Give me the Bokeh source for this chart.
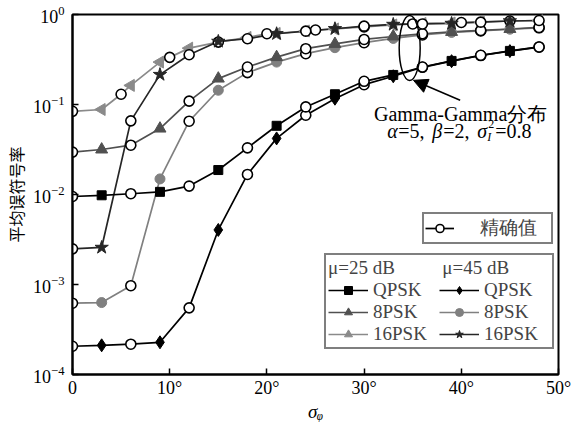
from bokeh.plotting import figure
from bokeh.models import Legend, LegendItem, Label, Arrow, NormalHead, FixedTicker, LogTicker
from bokeh.embed import file_html
from bokeh.resources import INLINE

# ---------------- data ----------------
x_ticks = [0, 10, 20, 30, 40, 50]
x_tick_labels = ["0", "10°", "20°", "30°", "40°", "50°"]

# mu = 25 dB, QPSK
qpsk25_ex_x = [0, 6, 12, 18, 24, 30, 36, 42, 48]
qpsk25_ex_y = [9.5e-3, 1.02e-2, 1.24e-2, 3.3e-2, 9.4e-2, 0.181, 0.261, 0.352, 0.436]
qpsk25_sim_x = [3, 9, 15, 21, 27, 33, 39, 45]
qpsk25_sim_y = [9.8e-3, 1.07e-2, 1.87e-2, 5.8e-2, 0.13, 0.213, 0.305, 0.394]

# mu = 45 dB, QPSK
qpsk45_ex_x = [0, 6, 12, 18, 24, 30, 36, 42, 48]
qpsk45_ex_y = [2.06e-4, 2.17e-4, 5.5e-4, 0.0167, 0.076, 0.166, 0.259, 0.35, 0.434]
qpsk45_sim_x = [3, 9, 15, 21, 27, 33, 39, 45]
qpsk45_sim_y = [2.11e-4, 2.28e-4, 4.04e-3, 0.042, 0.116, 0.206, 0.303, 0.392]

# mu = 25 dB, 8PSK
psk8_25_ex_x = [0, 6, 12, 18, 24, 30, 36, 42, 48]
psk8_25_ex_y = [0.0296, 0.0353, 0.109, 0.261, 0.417, 0.528, 0.611, 0.665, 0.718]
psk8_25_sim_x = [3, 9, 15, 21, 27, 33, 39, 45]
psk8_25_sim_y = [0.0316, 0.054, 0.194, 0.336, 0.471, 0.57, 0.64, 0.69]

# mu = 45 dB, 8PSK
psk8_45_ex_x = [0, 6, 12, 18, 24, 30, 36, 42, 48]
psk8_45_ex_y = [6.2e-4, 9.7e-4, 0.0652, 0.226, 0.367, 0.486, 0.593, 0.657, 0.712]
psk8_45_sim_x = [3, 9, 15, 21, 27, 33, 39, 45]
psk8_45_sim_y = [6.3e-4, 0.0149, 0.144, 0.296, 0.428, 0.542, 0.632, 0.686]

# mu = 25 dB, 16PSK
psk16_25_ex_x = [0, 5, 10, 15, 20, 25, 30, 35, 40, 45]
psk16_25_ex_y = [0.084, 0.13, 0.334, 0.493, 0.611, 0.673, 0.727, 0.785, 0.815, 0.847]
psk16_25_sim_x = [3, 6, 9, 12, 18, 21, 24, 27, 33, 36, 39, 42, 48]
psk16_25_sim_y = [0.088, 0.163, 0.296, 0.423, 0.556, 0.616, 0.656, 0.691, 0.765, 0.795, 0.805, 0.826, 0.858]

# mu = 45 dB, 16PSK
psk16_45_ex_x = [0, 6, 12, 18, 24, 30, 36, 42, 48]
psk16_45_ex_y = [2.49e-3, 0.0658, 0.357, 0.538, 0.653, 0.742, 0.785, 0.822, 0.858]
psk16_45_sim_x = [3, 9, 15, 21, 27, 33, 39, 45]
psk16_45_sim_y = [2.58e-3, 0.215, 0.502, 0.611, 0.694, 0.775, 0.795, 0.847]

SERIF = "Liberation Serif"

p = figure(width=576, height=424, x_range=(0, 50), y_range=(1e-4, 1),
           y_axis_type="log", output_backend="svg", toolbar_location=None,
           min_border_left=72, min_border_top=14, min_border_right=18, min_border_bottom=50)
p.background_fill_color = "white"
p.border_fill_color = "white"
p.xgrid.visible = False
p.ygrid.visible = False
p.outline_line_color = "black"
p.outline_line_width = 2
p.outline_line_alpha = 1

for ax in (p.xaxis[0], p.yaxis[0]):
    ax.axis_line_width = 2
    ax.major_tick_in = 6
    ax.major_tick_out = 0
    ax.major_tick_line_width = 1.5
    ax.minor_tick_line_color = None
    ax.major_label_text_font = SERIF
    ax.major_label_text_font_size = "18px"
    ax.major_label_text_color = "black"

p.xaxis.ticker = FixedTicker(ticks=x_ticks)
p.xaxis.major_label_overrides = {t: s for t, s in zip(x_ticks, x_tick_labels)}
p.xaxis.major_label_standoff = 3
p.xaxis.axis_label = "σᵩ"
p.xaxis.axis_label_text_font = SERIF
p.xaxis.axis_label_text_font_size = "19px"
p.xaxis.axis_label_text_font_style = "italic"
p.xaxis.axis_label_text_color = "black"
p.xaxis.axis_label_standoff = 0

p.yaxis.ticker = LogTicker(mantissas=[1])
p.yaxis.major_label_standoff = 4
p.yaxis.axis_label = "平均误符号率"
p.yaxis.axis_label_text_font = "Noto Sans CJK SC"
p.yaxis.axis_label_text_font_size = "16px"
p.yaxis.axis_label_text_font_style = "normal"
p.yaxis.axis_label_text_color = "black"
p.yaxis.axis_label_standoff = 2

series = [
    # key, ex_x, ex_y, sim_x, sim_y, color, marker, size, angle
    ("p16_25", psk16_25_ex_x, psk16_25_ex_y, psk16_25_sim_x, psk16_25_sim_y, "#8a8a8a", "triangle", 12, 1.5708),
    ("p8_45", psk8_45_ex_x, psk8_45_ex_y, psk8_45_sim_x, psk8_45_sim_y, "#808080", "circle", 10, 0.0),
    ("p8_25", psk8_25_ex_x, psk8_25_ex_y, psk8_25_sim_x, psk8_25_sim_y, "#505050", "triangle", 12, 0.0),
    ("p16_45", psk16_45_ex_x, psk16_45_ex_y, psk16_45_sim_x, psk16_45_sim_y, "#262626", "star", 14, 0.0),
    ("q45", qpsk45_ex_x, qpsk45_ex_y, qpsk45_sim_x, qpsk45_sim_y, "#000000", "diamond", 13, 0.0),
    ("q25", qpsk25_ex_x, qpsk25_ex_y, qpsk25_sim_x, qpsk25_sim_y, "#000000", "square", 9, 0.0),
]

lines, sims, exs = {}, {}, {}
for key, ex_x, ex_y, sx, sy, col, mk, sz, ang in series:
    pts = sorted(zip(list(ex_x) + list(sx), list(ex_y) + list(sy)))
    lines[key] = p.line([a for a, b in pts], [b for a, b in pts], line_color=col, line_width=1.7)
for key, ex_x, ex_y, sx, sy, col, mk, sz, ang in series:
    sims[key] = p.scatter(x=sx, y=sy, angle=[ang] * len(sx), marker=mk, size=sz,
                          fill_color=col, line_color=col)
    exs[key] = p.scatter(ex_x, ex_y, marker="circle", size=10, fill_color="white",
                         line_color="black", line_width=1.6)

# ellipse and arrow annotation
p.ellipse(x=[34.69], y=[0.4254], width=21, height=65, width_units="screen", height_units="screen",
          fill_color=None, line_color="black", line_width=1.5)
p.add_layout(Arrow(end=NormalHead(size=14, fill_color="black", line_color="black"),
                   x_start=39.88, y_start=0.1114, x_end=35.08, y_end=0.1857,
                   line_color="black", line_width=1.5))

def lab(x, y, text, size="20px", style="normal", align="left", xo=0, yo=0, font=SERIF):
    p.add_layout(Label(x=x, y=y, text=text, text_font=font, text_font_size=size,
                       text_font_style=style, text_align=align, text_baseline="middle",
                       x_offset=xo, y_offset=yo, text_color="black"))

lab(39.93, 0.078, "Gamma-Gamma分布", align="center")
y2 = 0.0505
x2 = 32.37
lab(x2, y2, "α", style="italic", xo=0)
lab(x2, y2, "=5,", xo=11)
lab(x2, y2, "β", style="italic", xo=45)
lab(x2, y2, "=2,", xo=56)
lab(x2, y2, "σ", style="italic", xo=90)
lab(x2, y2, "I", size="12px", style="italic", xo=100, yo=-6)
lab(x2, y2, "2", size="12px", xo=101, yo=7)
lab(x2, y2, "=0.8", xo=108)

# legends
leg1 = Legend(items=[LegendItem(label="精确值", renderers=[lines["q25"], exs["q25"]])],
              location=(350, 130), padding=1, margin=0, glyph_width=29, glyph_height=20,
              label_standoff=26, label_width=70, label_height=20,
              label_text_font="Liberation Serif", label_text_font_size="19px",
              border_line_color="black", border_line_width=2, background_fill_alpha=1)
p.add_layout(leg1)

items2 = [
    LegendItem(label="QPSK", renderers=[lines["q25"], sims["q25"]], index=0),
    LegendItem(label="8PSK", renderers=[lines["p8_25"], sims["p8_25"]], index=0),
    LegendItem(label="16PSK", renderers=[lines["p16_25"], sims["p16_25"]], index=0),
    LegendItem(label="QPSK", renderers=[lines["q45"], sims["q45"]], index=0),
    LegendItem(label="8PSK", renderers=[lines["p8_45"], sims["p8_45"]], index=0),
    LegendItem(label="16PSK", renderers=[lines["p16_45"], sims["p16_45"]], index=0),
]
leg2 = Legend(items=items2, ncols=2, location=(252, 25), padding=2, margin=0,
              glyph_width=40, glyph_height=20, label_standoff=5, label_width=66, label_height=20,
              spacing=0, title="μ=25 dB          μ=45 dB", title_text_font=SERIF,
              title_text_font_size="19px", title_text_font_style="normal", title_standoff=0,
              label_text_font=SERIF, label_text_font_size="19px",
              border_line_color="black", border_line_width=2, background_fill_alpha=1)
p.add_layout(leg2)

open("out.html", "w").write(file_html(p, INLINE))
